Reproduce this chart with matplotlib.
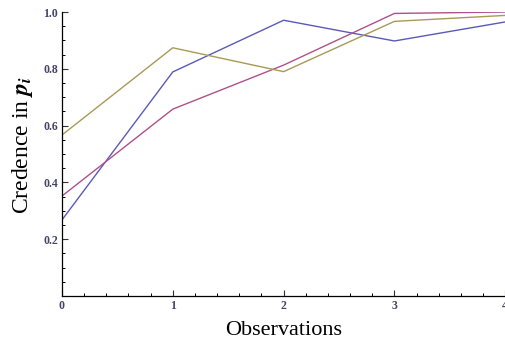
import matplotlib
matplotlib.use("Agg")
import matplotlib.pyplot as plt
from matplotlib.ticker import MultipleLocator

# Data
observations = [0, 1, 2, 3, 4]
blue = [0.268, 0.789, 0.971, 0.898, 0.965]
pink = [0.352, 0.658, 0.813, 0.995, 1.0]
gold = [0.567, 0.874, 0.790, 0.967, 0.988]

plt.rcParams['font.family'] = ['Liberation Serif', 'DejaVu Serif']
plt.rcParams['mathtext.fontset'] = 'stix'

fig = plt.figure(figsize=(5.06, 3.43), dpi=100)
ax = fig.add_axes([0.1225, 0.137, 0.876, 0.828])

ax.plot(observations, blue, color="#5a5ab8", lw=1.0)
ax.plot(observations, pink, color="#b0508a", lw=1.0)
ax.plot(observations, gold, color="#a89a55", lw=1.0)

ax.set_xlim(0, 4)
ax.set_ylim(0, 1.0)
ax.spines['top'].set_visible(False)
ax.spines['right'].set_visible(False)
ax.spines['left'].set_linewidth(0.9)
ax.spines['bottom'].set_linewidth(0.9)

ax.xaxis.set_major_locator(MultipleLocator(1))
ax.xaxis.set_minor_locator(MultipleLocator(0.2))
ax.yaxis.set_major_locator(MultipleLocator(0.2))
ax.yaxis.set_minor_locator(MultipleLocator(0.05))
ax.set_yticks([0.2, 0.4, 0.6, 0.8, 1.0])
ax.set_yticklabels(["0.2", "0.4", "0.6", "0.8", "1.0"])

ax.tick_params(which='major', direction='in', length=4, width=0.8,
               labelsize=8.5, pad=3, colors='#333333')
ax.tick_params(which='minor', direction='in', length=2.5, width=0.7)
for lab in ax.get_xticklabels() + ax.get_yticklabels():
    lab.set_fontweight('bold')
    lab.set_color('#444466')

ax.set_xlabel("Observations", fontsize=16, labelpad=6)
ax.set_ylabel(r"Credence in $\mathbfit{p_i}$", fontsize=17, labelpad=2)
ax.yaxis.set_label_coords(-0.062, 0.53)

fig.savefig("out.png", dpi=100)
